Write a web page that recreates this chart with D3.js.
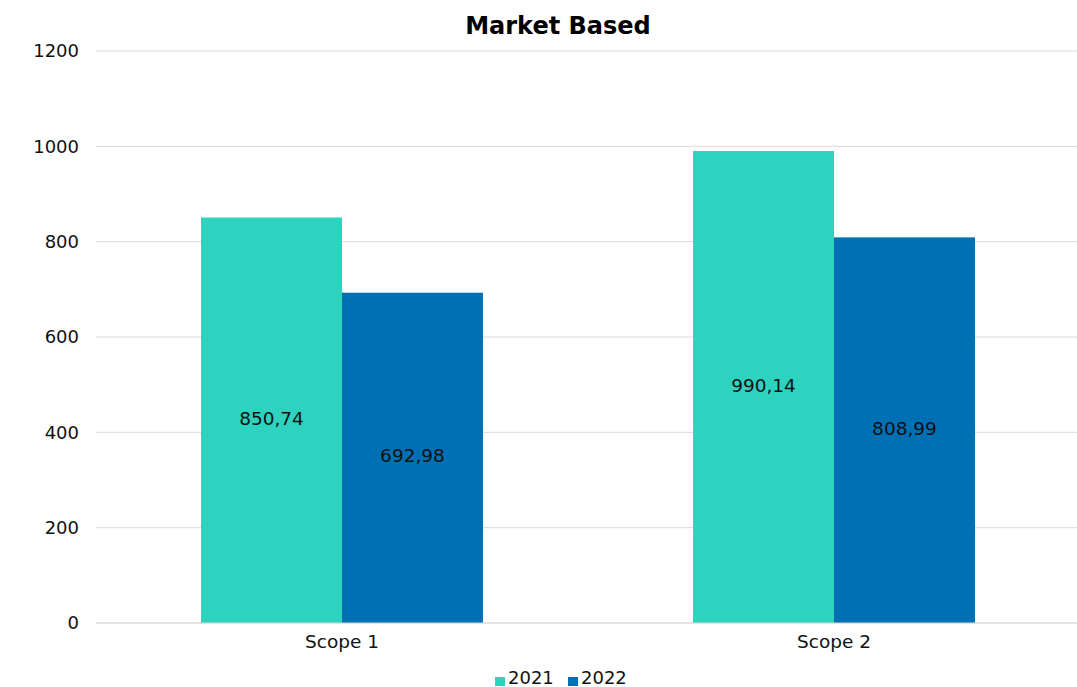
<!DOCTYPE html>
<html><head><meta charset="utf-8">
<script src="https://cdn.jsdelivr.net/npm/d3@7"></script>
<style>body{margin:0;background:#fff;}svg{display:block;font-family:"DejaVu Sans",sans-serif;}</style>
</head><body><svg id="c" width="1077" height="687"></svg>
<script>
const categories = ["Scope 1", "Scope 2"];
const seriesNames = ["2021", "2022"];
const values2021 = [850.74, 990.14];
const values2022 = [692.98, 808.99];
const labels2021 = ["850,74", "990,14"];
const labels2022 = ["692,98", "808,99"];
const yTicks = [0, 200, 400, 600, 800, 1000, 1200];
const colors = ["#2ED3BF", "#0070B5"];

(function(){
const svg = d3.select("#c");
const mLeft = 96, mRight = 1080, mTop = 51, mBottom = 623;
const x = d3.scaleBand().domain(categories).range([mLeft, mRight]).padding(0);
const xs = d3.scaleBand().domain(seriesNames).range([0, x.bandwidth()]).paddingInner(0).paddingOuter(0.745);
const y = d3.scaleLinear().domain([0, 1200]).range([mBottom, mTop]);

svg.append("g").selectAll("line").data(yTicks).join("line")
  .attr("x1", mLeft).attr("x2", 1077)
  .attr("y1", d => y(d)).attr("y2", d => y(d))
  .attr("stroke", "#d9d9d9").attr("stroke-width", 1);

svg.append("g").selectAll("text").data(yTicks).join("text")
  .attr("x", 79).attr("y", d => y(d)).attr("dy", "0.36em")
  .attr("text-anchor", "end").attr("font-size", 18).attr("fill", "#111")
  .text(d => d);

const series = [values2021, values2022];
const labels = [labels2021, labels2022];
series.forEach((vals, si) => {
  const g = svg.append("g");
  g.selectAll("rect").data(categories).join("rect")
    .attr("x", (c) => x(c) + xs(seriesNames[si]))
    .attr("width", xs.bandwidth())
    .attr("y", (c, i) => y(vals[i]))
    .attr("height", (c, i) => y(0) - y(vals[i]))
    .attr("fill", colors[si]);
  g.selectAll("text").data(categories).join("text")
    .attr("x", c => x(c) + xs(seriesNames[si]) + xs.bandwidth() / 2)
    .attr("y", (c, i) => (y(vals[i]) + y(0)) / 2 - 2)
    .attr("dy", "0.36em").attr("text-anchor", "middle")
    .attr("font-size", 18.5).attr("fill", "#111")
    .text((c, i) => labels[si][i]);
});

svg.append("line").attr("x1", mLeft).attr("x2", 1077).attr("y1", mBottom).attr("y2", mBottom)
  .attr("stroke", "#d9d9d9");

svg.append("g").selectAll("text").data(categories).join("text")
  .attr("x", c => x(c) + x.bandwidth() / 2).attr("y", 648)
  .attr("text-anchor", "middle").attr("font-size", 18.5).attr("fill", "#111")
  .text(d => d);

svg.append("text").attr("x", 558).attr("y", 34)
  .attr("text-anchor", "middle").attr("font-size", 24).attr("font-weight", "bold").attr("fill", "#000")
  .text("Market Based");

const lg = svg.append("g");
const legendX = [495, 568];
seriesNames.forEach((s, i) => {
  lg.append("rect").attr("x", legendX[i]).attr("y", 677).attr("width", 10).attr("height", 9).attr("fill", colors[i]);
  lg.append("text").attr("x", legendX[i] + 13).attr("y", 684)
    .attr("font-size", 18).attr("fill", "#111").text(s);
});
})();
</script></body></html>
